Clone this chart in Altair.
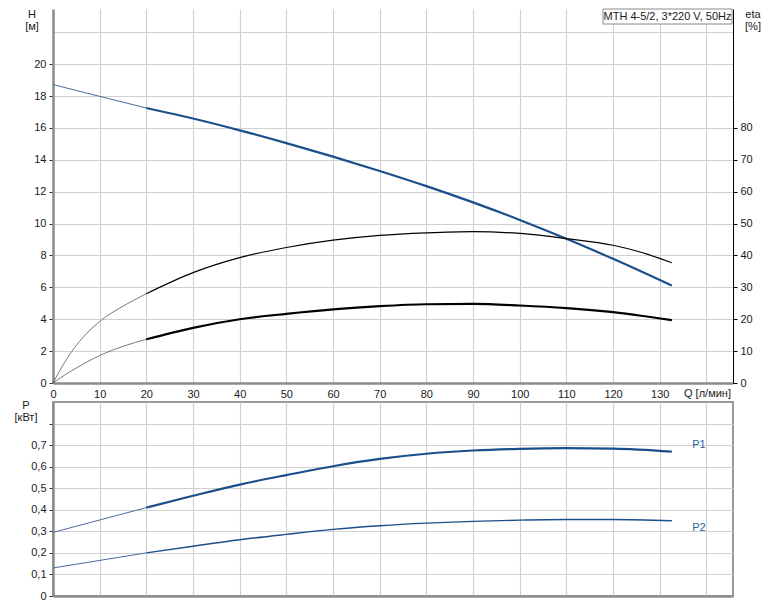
import altair as alt
import pandas as pd

# ---------------- data ----------------
# Head curve H [m]
Q_H_THIN = [0, 10, 20]
H_THIN = [18.72, 17.98, 17.25]
Q_H = [20, 30, 40, 50, 60, 70, 80, 90, 100, 110, 120, 132.6]
H_VALS = [17.25, 16.59, 15.85, 15.05, 14.2, 13.3, 12.35, 11.33, 10.23, 9.05, 7.79, 6.11]

# Efficiency curves eta [%]
Q_ETA_THIN = [0, 2.5, 5, 10, 15, 20]
ETA1_THIN = [0, 6.5, 11.8, 19.3, 24.1, 28.0]
ETA2_THIN = [0, 2.5, 4.7, 8.6, 11.5, 13.7]
Q_ETA = [20, 30, 40, 50, 60, 70, 80, 90, 100, 110, 120, 126, 132.6]
ETA1 = [28.0, 34.6, 39.3, 42.5, 44.8, 46.3, 47.1, 47.5, 46.9, 45.3, 43.2, 41.0, 37.7]
ETA2 = [13.7, 17.3, 20.0, 21.7, 23.1, 24.1, 24.7, 24.8, 24.3, 23.5, 22.2, 21.1, 19.7]

# Power curves P [kW]
Q_P_THIN = [0, 20]
P1_THIN = [0.295, 0.41]
P2_THIN = [0.13, 0.20]
Q_P = [20, 30, 40, 50, 60, 70, 80, 90, 100, 110, 120, 132.6]
P1 = [0.41, 0.465, 0.517, 0.561, 0.602, 0.636, 0.66, 0.675, 0.683, 0.686, 0.684, 0.67]
P2 = [0.20, 0.231, 0.261, 0.286, 0.309, 0.326, 0.338, 0.346, 0.352, 0.355, 0.355, 0.349]
P_LABELS = ["P1", "P2"]
P_LABEL_Q = [138.4, 138.4]
P_LABEL_V = [0.70, 0.315]

X_TICKS = list(range(0, 141, 10))
H_TICKS = list(range(0, 23, 2))
ETA_TICKS = list(range(0, 81, 10))
P_TICKS = [0, 0.1, 0.2, 0.3, 0.4, 0.5, 0.6, 0.7, 0.8]

TITLE = "MTH 4-5/2, 3*220 V, 50Hz"

BLUE = "#1b4f8c"
BLUE_THIN = "#4a6b9c"
GRAY_AX = "#8c8c8c"
FONT = "Liberation Sans"


def seg(qs, vals, name, width, color):
    return pd.DataFrame({"Q": qs, "V": vals, "seg": name, "w": width, "c": color})


df_h = pd.concat([
    seg(Q_H_THIN, H_THIN, "h_thin", 1.0, BLUE_THIN),
    seg(Q_H, H_VALS, "h", 2.2, BLUE),
])
df_eta = pd.concat([
    seg(Q_ETA_THIN, ETA1_THIN, "e1_thin", 0.8, "#555555"),
    seg(Q_ETA, ETA1, "e1", 1.2, "#000000"),
    seg(Q_ETA_THIN, ETA2_THIN, "e2_thin", 0.8, "#555555"),
    seg(Q_ETA, ETA2, "e2", 2.2, "#000000"),
])
df_p = pd.concat([
    seg(Q_P_THIN, P1_THIN, "p1_thin", 1.0, BLUE_THIN),
    seg(Q_P, P1, "p1", 2.2, BLUE),
    seg(Q_P_THIN, P2_THIN, "p2_thin", 1.0, BLUE_THIN),
    seg(Q_P, P2, "p2", 1.4, BLUE),
])
df_plab = pd.DataFrame({"Q": P_LABEL_Q, "V": P_LABEL_V, "t": P_LABELS})

W = 680
H_TOP = 374
H_BOT = 194
X_DOMAIN = [0, 145.7]
one = pd.DataFrame({"a": [0]})

x_top_axis = alt.Axis(
    values=X_TICKS, title=None, grid=True, ticks=False, labels=True, labelPadding=5,
    labelExpr="datum.value > 130 ? '' : datum.label", labelOverlap=False,
    domainColor=GRAY_AX, domainWidth=2.5, labelFlush=False,
)
x_top = alt.X("Q:Q", scale=alt.Scale(domain=X_DOMAIN, nice=False, zero=False), axis=x_top_axis)
y_h = alt.Y(
    "V:Q",
    scale=alt.Scale(domain=[0, 23.46], nice=False),
    axis=alt.Axis(
        orient="left", values=H_TICKS, title=None, grid=True, labelOverlap=False,
        labelExpr="datum.value > 20 ? '' : datum.label",
        tickOpacity={"condition": {"test": "datum.value > 20", "value": 0}, "value": 1},
        tickColor="#333333", tickSize=4, labelPadding=3,
        domainColor=GRAY_AX, domainWidth=2.5,
    ),
)

lines_h = alt.Chart(df_h).mark_line(interpolate="monotone").encode(
    x=x_top, y=y_h, detail="seg:N",
    color=alt.Color("c:N", scale=None),
    strokeWidth=alt.StrokeWidth("w:Q", scale=None),
)


def label(text, x, y, align="center", size=11, color="#1a1a1a"):
    return alt.Chart(one).mark_text(
        text=text, align=align, baseline="middle", font=FONT, fontSize=size, color=color
    ).encode(x=alt.value(x), y=alt.value(y))


box = alt.Chart(one).mark_rect(fill="white", stroke="#8a8a8a", strokeWidth=1).encode(
    x=alt.value(550), x2=alt.value(679), y=alt.value(0), y2=alt.value(15)
)

h_layer = alt.layer(
    lines_h,
    box,
    label(TITLE, 614.5, 8, size=11),
    label("H", -21, 6),
    label("[м]", -21, 18),
    label("eta", 700, 6),
    label("[%]", 700, 18),
    label("Q [л/мин]", 631, H_TOP + 11, align="left"),
)

y_eta = alt.Y(
    "V:Q",
    scale=alt.Scale(domain=[0, 117.3], nice=False),
    axis=alt.Axis(
        orient="right", values=ETA_TICKS, title=None, grid=False, labelOverlap=False,
        tickColor="#000000", tickSize=4, labelPadding=3,
        domainColor="#000000", domainWidth=1,
    ),
)
eta_layer = alt.Chart(df_eta).mark_line(interpolate="monotone").encode(
    x=x_top, y=y_eta, detail="seg:N",
    color=alt.Color("c:N", scale=None),
    strokeWidth=alt.StrokeWidth("w:Q", scale=None),
)

top = alt.layer(h_layer, eta_layer).resolve_scale(y="independent").properties(
    width=W, height=H_TOP, view=alt.ViewBackground(stroke="transparent")
)

# ---------------- bottom panel ----------------
x_bot = alt.X(
    "Q:Q",
    scale=alt.Scale(domain=X_DOMAIN, nice=False, zero=False),
    axis=alt.Axis(
        values=X_TICKS, title=None, grid=True, labels=False, ticks=False,
        domainColor=GRAY_AX, domainWidth=2.5,
    ),
)
y_p = alt.Y(
    "V:Q",
    scale=alt.Scale(domain=[0, 0.9], nice=False),
    axis=alt.Axis(
        orient="left", values=P_TICKS, title=None, grid=True, labelOverlap=False,
        labelExpr="datum.value == 0 ? '0' : (datum.value > 0.75 ? '' : replace(format(datum.value, '.1f'), '.', ','))",
        tickColor="#333333", tickSize=4, labelPadding=3,
        domainColor=GRAY_AX, domainWidth=2.5,
    ),
)
lines_p = alt.Chart(df_p).mark_line(interpolate="monotone").encode(
    x=x_bot, y=y_p, detail="seg:N",
    color=alt.Color("c:N", scale=None),
    strokeWidth=alt.StrokeWidth("w:Q", scale=None),
)
plabels = alt.Chart(df_plab).mark_text(
    font=FONT, fontSize=11, color="#2d5e9e", align="center", baseline="middle"
).encode(x=x_bot, y=y_p, text="t:N")

bottom = alt.layer(
    lines_p, plabels,
    label("P", -27, 4),
    label("[кВт]", -27, 16),
).properties(
    width=W, height=H_BOT,
    view=alt.ViewBackground(stroke="#9a9a9a", strokeWidth=2),
)

chart = alt.vconcat(top, bottom, spacing=19, bounds="flush").properties(
    padding={"left": 5, "top": 0, "right": 3, "bottom": 0}
).configure_axis(
    labelFont=FONT, labelFontSize=11, labelColor="#1a1a1a",
    gridColor="#d0d0d0", gridWidth=1.2,
)

chart.save("out.html", embed_options={"renderer": "svg", "actions": False})
